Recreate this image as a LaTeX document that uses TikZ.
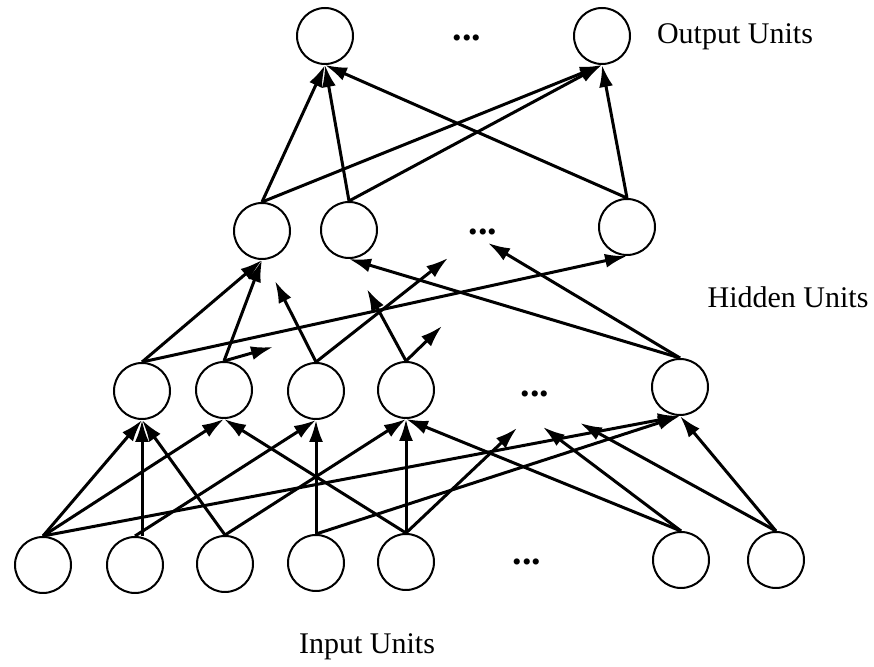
\documentclass[tikz,border=0pt]{standalone}
\usepackage{fontspec}
\setmainfont{Liberation Serif}
\usetikzlibrary{arrows.meta}
\begin{document}
\begin{tikzpicture}[x=0.5pt,y=-0.5pt]
	\tikzset{unit/.style=
        {circle, draw=black, line width=1pt, minimum size=28pt, inner sep=0pt},
        conn/.style={line width=1.5pt, -{Latex[length=11pt,width=7pt]}},
        layername/.style={font=\fontsize{15}{18}\selectfont},
        ellip/.style={font=\fontsize{19}{22}\selectfont\bfseries}
     }
	\useasboundingbox (0,0) rectangle (874,667);
	% output units
	\node[unit] (l3n1) at (325,36) {};
	\node[unit] (l3n2) at (602,36) {};
	\node[ellip] (l3dots) at (467,38) {...};
	\node[layername] (outname) at (735,37) {Output Units};
	% second hidden layer
	\node[unit] (l2n1) at (262,231) {};
	\node[unit] (l2n2) at (349,230) {};
	\node[unit] (l2n3) at (627,227) {};
	\node[ellip] (l2dots) at (483,232) {...};
	\node[layername] (hidname) at (788,297) {Hidden Units};
	% first hidden layer
	\node[unit] (l1n1) at (142,391) {};
	\node[unit] (l1n2) at (224,390) {};
	\node[unit] (l1n3) at (316,391) {};
	\node[unit] (l1n4) at (406,390) {};
	\node[unit] (l1n5) at (680,387) {};
	\node[ellip] (l1dots) at (535,394) {...};
	% input units
	\node[unit] (l0n1) at (43,565) {};
	\node[unit] (l0n2) at (135,565) {};
	\node[unit] (l0n3) at (225,564) {};
	\node[unit] (l0n4) at (316,563) {};
	\node[unit] (l0n5) at (406,562) {};
	\node[unit] (l0n6) at (681,560) {};
	\node[unit] (l0n7) at (776,560) {};
	\node[ellip] (l0dots) at (527,562) {...};
	\node[layername] (inname) at (367,647) {Input Units};
	% loose ends towards the units left out
	\coordinate (s12) at (273,347);
	\coordinate (s13a) at (275,281);
	\coordinate (s13b) at (448,258);
	\coordinate (s14a) at (367,289);
	\coordinate (s14b) at (442,326);
	\coordinate (s15) at (488,243);
	\coordinate (s05) at (517,428);
	\coordinate (s06) at (543,427);
	\coordinate (s07) at (580,423);
	% input -> first hidden
	\draw[conn] (l0n1.north) -- (l1n1.south);
	\draw[conn] (l0n1.north) -- (l1n2.south);
	\draw[conn] (l0n1.north) -- (l1n5.south);
	\draw[conn] (l0n2.north -| l1n1.south) -- (l1n1.south);
	\draw[conn] (l0n2.north) -- (l1n3.south);
	\draw[conn] (l0n3.north) -- (l1n1.south);
	\draw[conn] (l0n3.north) -- (l1n4.south);
	\draw[conn] (l0n4.north) -- (l1n3.south);
	\draw[conn] (l0n4.north) -- (l1n5.south);
	\draw[conn] (l0n5.north) -- (l1n2.south);
	\draw[conn] (l0n5.north) -- (l1n4.south);
	\draw[conn] (l0n5.north) -- (s05);
	\draw[conn] (l0n6.north) -- (l1n4.south);
	\draw[conn] (l0n6.north) -- (s06);
	\draw[conn] (l0n7.north) -- (s07);
	\draw[conn] (l0n7.north) -- (l1n5.south);
	% first hidden -> second hidden
	\draw[conn] (l1n1.north) -- (l2n1.south);
	\draw[conn] (l1n1.north) -- (l2n3.south);
	\draw[conn] (l1n2.north) -- (l2n1.south);
	\draw[conn] (l1n2.north) -- (s12);
	\draw[conn] (l1n3.north) -- (s13a);
	\draw[conn] (l1n3.north) -- (s13b);
	\draw[conn] (l1n4.north) -- (s14a);
	\draw[conn] (l1n4.north) -- (s14b);
	\draw[conn] (l1n5.north) -- (l2n2.south);
	\draw[conn] (l1n5.north) -- (s15);
	% second hidden -> output
	\draw[conn] (l2n1.north) -- (l3n1.south);
	\draw[conn] (l2n1.north) -- (l3n2.south);
	\draw[conn] (l2n2.north) -- (l3n1.south);
	\draw[conn] (l2n2.north) -- (l3n2.south);
	\draw[conn] (l2n3.north) -- (l3n1.south);
	\draw[conn] (l2n3.north) -- (l3n2.south);
\end{tikzpicture}
\end{document}
